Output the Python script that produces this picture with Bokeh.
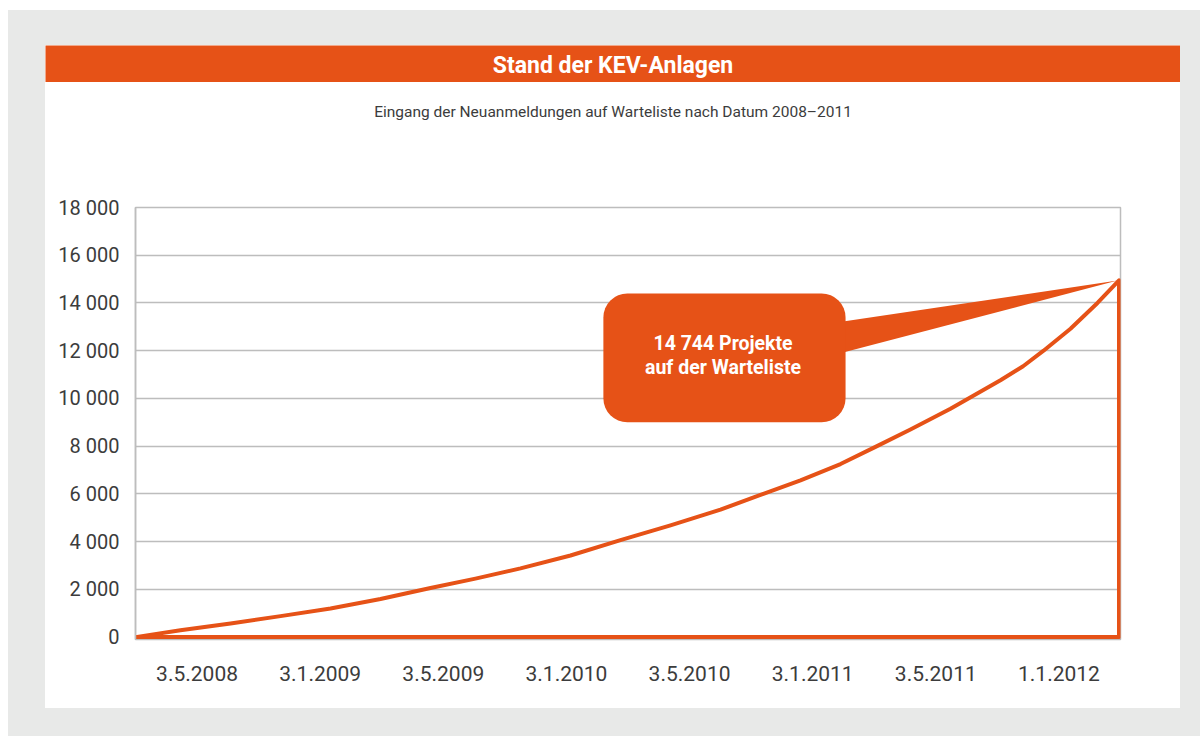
from bokeh.plotting import figure
from bokeh.layouts import column
from bokeh.models import FixedTicker, Range1d
from bokeh.core.properties import value
from bokeh.embed import file_html
from bokeh.resources import INLINE

# ---------------- data ----------------
title_text = "Stand der KEV-Anlagen"
subtitle_text = "Eingang der Neuanmeldungen auf Warteliste nach Datum 2008–2011"
callout_lines = ["14 744 Projekte", "auf der Warteliste"]

x_labels = ["3.5.2008", "3.1.2009", "3.5.2009", "3.1.2010",
            "3.5.2010", "3.1.2011", "3.5.2011", "1.1.2012"]
y_ticks = [0, 2000, 4000, 6000, 8000, 10000, 12000, 14000, 16000, 18000]
y_tick_labels = ["0", "2 000", "4 000", "6 000", "8 000", "10 000",
                 "12 000", "14 000", "16 000", "18 000"]

# position along the date axis (in label slots) and number of registrations
curve_x = [0.0, 0.365, 0.772, 1.178, 1.584, 1.990, 2.396, 2.761, 3.127, 3.533,
           3.939, 4.345, 4.751, 5.076, 5.401, 5.726, 6.010, 6.294, 6.619,
           7.025, 7.209, 7.375, 7.594, 7.813, 7.988]
curve_y = [0, 290, 570, 880, 1200, 1600, 2060, 2450, 2880, 3420,
           4060, 4680, 5340, 5960, 6570, 7250, 7970, 8700, 9570,
           10760, 11350, 12000, 12920, 14000, 14950]

# ---------------- style ----------------
ORANGE = "#e65217"
GREY_BG = "#e8e9e8"
GRID = "#bdbdbd"
TEXT = "#3c3c3c"
FONT = "Roboto"

# header bar
hdr = figure(width=1135, height=37, x_range=(0, 1), y_range=(0, 1),
             toolbar_location=None, output_backend="svg",
             x_axis_location=None, y_axis_location=None,
             min_border=0)
hdr.frame_align = False
hdr.grid.visible = False
hdr.outline_line_color = None
hdr.background_fill_color = ORANGE
hdr.border_fill_color = ORANGE
hdr.text(x=[0.5], y=[0.47], text=[title_text], text_align="center",
         text_baseline="middle", text_color="white",
         text_font=value(FONT), text_font_style="bold", text_font_size="23px")

# subtitle strip
sub = figure(width=1135, height=58, x_range=(0, 1), y_range=(0, 1),
             toolbar_location=None, output_backend="svg",
             x_axis_location=None, y_axis_location=None,
             min_border=0)
sub.frame_align = False
sub.grid.visible = False
sub.outline_line_color = None
sub.background_fill_color = "white"
sub.border_fill_color = "white"
sub.text(x=[0.5], y=[0.5], text=[subtitle_text], text_align="center",
         text_baseline="middle", text_color=TEXT,
         text_font=value(FONT), text_font_size="15.5px")

# main chart
p = figure(width=1135, height=568, x_range=Range1d(0, 8), y_range=Range1d(-100, 18000),
           toolbar_location=None, output_backend="svg",
           min_border_left=90, min_border_right=60,
           min_border_top=67, min_border_bottom=69)
p.background_fill_color = "white"
p.border_fill_color = "white"
p.outline_line_color = GRID
p.outline_line_width = 1.5

p.xgrid.visible = False
p.ygrid.ticker = FixedTicker(ticks=y_ticks)
p.ygrid.grid_line_color = GRID
p.ygrid.grid_line_width = 1.5

p.yaxis.ticker = FixedTicker(ticks=y_ticks)
p.yaxis.major_label_overrides = {t: l for t, l in zip(y_ticks, y_tick_labels)}
p.yaxis.axis_line_color = GRID
p.yaxis.axis_line_width = 1.5
p.yaxis.major_tick_line_color = None
p.yaxis.minor_tick_line_color = None
p.yaxis.major_tick_out = 0
p.yaxis.major_tick_in = 0
p.yaxis.major_label_standoff = 16
p.yaxis.major_label_text_font = FONT
p.yaxis.major_label_text_font_size = "20px"
p.yaxis.major_label_text_color = TEXT

x_ticks = [i + 0.5 for i in range(len(x_labels))]
p.xaxis.ticker = FixedTicker(ticks=x_ticks)
p.xaxis.major_label_overrides = {t: l for t, l in zip(x_ticks, x_labels)}
p.xaxis.axis_line_color = None
p.xaxis.major_tick_line_color = None
p.xaxis.minor_tick_line_color = None
p.xaxis.major_tick_out = 0
p.xaxis.major_tick_in = 0
p.xaxis.major_label_standoff = 26
p.xaxis.major_label_text_font = FONT
p.xaxis.major_label_text_font_size = "21px"
p.xaxis.major_label_text_color = TEXT

# outline of the cumulative area: curve, drop to zero, back along the baseline
area_x = curve_x + [curve_x[-1], curve_x[0]]
area_y = curve_y + [0, 0]
p.patch(area_x, area_y, fill_color=None, line_color=ORANGE, line_width=4,
        line_join="round")

# callout bubble
last_x, last_y = curve_x[-1], curve_y[-1]
box_l, box_r, box_t, box_b = 3.80, 5.767, 14400, 9000
p.patch([box_r - 0.02, box_r - 0.02, last_x - 0.012],
        [13224, 11925, last_y - 10], fill_color=ORANGE, line_color=None)
p.quad(left=[box_l], right=[box_r], top=[box_t], bottom=[box_b],
       fill_color=ORANGE, line_color=None, border_radius=24)
p.text(x=[4.772, 4.772], y=[12302, 11296], text=callout_lines,
       text_align="center", text_baseline="middle", text_color="white",
       text_font=value(FONT), text_font_style="bold", text_font_size="19.5px")

panel = column(hdr, sub, p, spacing=0, margin=(35, 20, 28, 37),
               styles={"background-color": "white"})
layout = column(panel, spacing=0, margin=(10, 0, 0, 8),
                styles={"background-color": GREY_BG})

open("out.html", "w").write(file_html(layout, INLINE))
